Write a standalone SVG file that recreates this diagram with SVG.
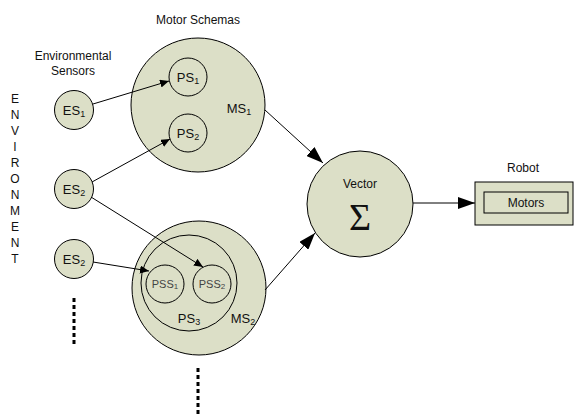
<svg xmlns="http://www.w3.org/2000/svg" width="577" height="415" viewBox="0 0 577 415">
<defs>
<marker id="sa" markerUnits="userSpaceOnUse" markerWidth="10" markerHeight="8" refX="9" refY="4" orient="auto"><path d="M0,0 L9,4 L0,8 Z" fill="#000"/></marker>
<marker id="la" markerUnits="userSpaceOnUse" markerWidth="18" markerHeight="12" refX="17" refY="6" orient="auto"><path d="M0,0 L17,6 L0,12 Z" fill="#000"/></marker>
</defs>
<style>
.n{fill:#dcdfc7;stroke:#000;stroke-width:1}
.o{fill:none;stroke:#000;stroke-width:1}
text{font-family:"Liberation Sans",Arial,sans-serif;fill:#111}
.t{font-size:12px;text-anchor:middle}
.l{font-size:13px;text-anchor:middle}
.s{font-size:9px}
.p{font-size:11px;text-anchor:middle;fill:#444}
.c{stroke:#000;stroke-width:1;fill:none}
.d{stroke:#000;stroke-width:3;stroke-dasharray:4,3}
text.sig{font-family:"Liberation Serif","Times New Roman",serif;font-size:38px;text-anchor:middle}
</style>
<rect width="577" height="415" fill="#fff"/>
<text class="t" x="198" y="24">Motor Schemas</text>
<text class="t" x="73" y="60">Environmental</text>
<text class="t" x="73" y="75">Sensors</text>
<g class="t">
<text class="t" x="15" y="103">E</text>
<text class="t" x="15" y="119">N</text>
<text class="t" x="15" y="135">V</text>
<text class="t" x="15" y="151">I</text>
<text class="t" x="15" y="167">R</text>
<text class="t" x="15" y="183">O</text>
<text class="t" x="15" y="199">N</text>
<text class="t" x="15" y="215">M</text>
<text class="t" x="15" y="231">E</text>
<text class="t" x="15" y="247">N</text>
<text class="t" x="15" y="263">T</text>
</g>
<g id="es1"><circle class="n" cx="74" cy="110" r="19.5"/><text class="l" x="74" y="115">ES<tspan class="s" dy="2">1</tspan></text></g>
<g id="es2"><circle class="n" cx="74" cy="189" r="19.5"/><text class="l" x="74" y="194">ES<tspan class="s" dy="2">2</tspan></text></g>
<g id="es3"><circle class="n" cx="74" cy="259" r="19.5"/><text class="l" x="74" y="264">ES<tspan class="s" dy="2">2</tspan></text></g>
<g id="ms1"><circle class="n" cx="198" cy="105" r="67"/><text class="l" x="239" y="113">MS<tspan class="s" dy="2">1</tspan></text></g>
<g id="ps1"><circle class="n" cx="188" cy="77" r="19"/><text class="l" x="188" y="82">PS<tspan class="s" dy="2">1</tspan></text></g>
<g id="ps2"><circle class="n" cx="188" cy="133" r="19"/><text class="l" x="188" y="138">PS<tspan class="s" dy="2">2</tspan></text></g>
<g id="ms2"><circle class="n" cx="199" cy="288" r="67"/><text class="l" x="243" y="323">MS<tspan class="s" dy="2">2</tspan></text></g>
<g id="ps3"><circle class="o" cx="189" cy="283" r="48"/><text class="l" x="189" y="323">PS<tspan class="s" dy="2">3</tspan></text></g>
<g id="pss1"><circle class="o" cx="165" cy="284" r="19"/><text class="p" x="165" y="288">PSS<tspan font-size="8" dy="1">1</tspan></text></g>
<g id="pss2"><circle class="o" cx="212" cy="284" r="19"/><text class="p" x="212" y="288">PSS<tspan font-size="8" dy="1">2</tspan></text></g>
<g id="vector"><circle class="n" cx="360" cy="204" r="53"/><text class="t" x="360" y="188">Vector</text><text class="sig" x="360" y="230">Σ</text></g>
<g id="robot"><rect class="n" x="475" y="182" width="98" height="43"/><rect class="o" x="484" y="192" width="84" height="21"/><text class="t" x="526" y="207">Motors</text><text class="t" x="523" y="172">Robot</text></g>
<g id="connectors">
<line class="c" x1="93" y1="104" x2="169" y2="81" marker-end="url(#sa)"/>
<line class="c" x1="92" y1="182" x2="170" y2="139" marker-end="url(#sa)"/>
<line class="c" x1="91" y1="197" x2="203" y2="267" marker-end="url(#sa)"/>
<line class="c" x1="93" y1="262" x2="149" y2="271" marker-end="url(#sa)"/>
<line class="c" x1="265" y1="110" x2="323" y2="163" marker-end="url(#la)"/>
<line class="c" x1="265" y1="290" x2="315" y2="233" marker-end="url(#la)"/>
<line class="c" x1="413" y1="203" x2="475" y2="203" marker-end="url(#la)" stroke="#333"/>
<line class="d" x1="74" y1="298" x2="74" y2="346"/>
<line class="d" x1="198" y1="368" x2="198" y2="415"/>
</g>
</svg>
